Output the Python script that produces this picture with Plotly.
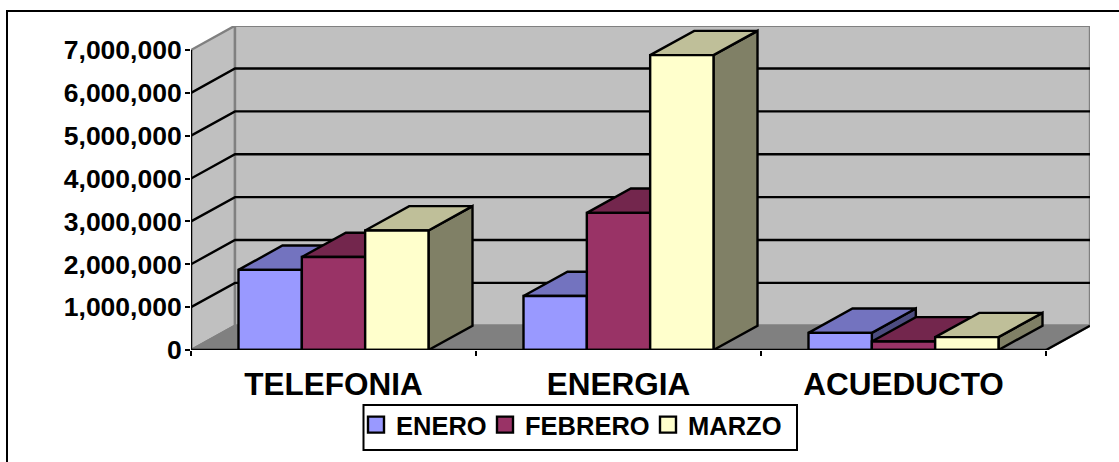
import plotly.graph_objects as go

CATEGORIES = ["TELEFONIA", "ENERGIA", "ACUEDUCTO"]
ENERO = [1870000, 1260000, 400000]
FEBRERO = [2170000, 3200000, 200000]
MARZO = [2790000, 6880000, 300000]
SERIES_NAMES = ["ENERO", "FEBRERO", "MARZO"]
Y_TICKS = [0, 1000000, 2000000, 3000000, 4000000, 5000000, 6000000, 7000000]

FRONT = ["#9999FF", "#993366", "#FFFFCC"]
TOP = ["#7373BF", "#73264D", "#BFBF99"]
SIDE = ["#4D4D80", "#4D1933", "#808066"]

# page geometry (pixels)
W, H = 1119, 462
L, R, T, B = 191, 1090, 26, 350
PX_PER_CAT = 285.0
PX_PER_UNIT = 300 / 7000000
DX = 44 / PX_PER_CAT        # depth of the 3D box in category units
DY = 24.3 / PX_PER_UNIT     # depth of the 3D box in value units
BAR_W = 1 / 4.5
GAP = (1 - 3 * BAR_W) / 2
N = len(CATEGORIES)
YTOP = Y_TICKS[-1]
LEGEND_X = [356, 485, 648]
LEGEND_Y = 401.5

fig = go.Figure()


def poly(xs, ys, fill=None, line="#000000", width=2.4):
    fig.add_trace(go.Scatter(
        x=xs, y=ys, mode="lines", showlegend=False, hoverinfo="skip",
        fill="toself" if fill else None, fillcolor=fill,
        line=dict(color=line, width=width), cliponaxis=False,
    ))


# walls and floor
poly([0, DX, DX, 0, 0], [0, DY, YTOP + DY, YTOP, 0], "#C0C0C0", "#808080")
poly([DX, N + DX, N + DX, DX, DX], [DY, DY, YTOP + DY, YTOP + DY, DY], "#C0C0C0", "#808080")
poly([0, DX, N + DX, N, 0], [0, DY, DY, 0, 0], "#808080", "#808080")

# gridlines
for v in Y_TICKS[1:-1]:
    poly([0, DX, N + DX], [v, v + DY, v + DY])
poly([N, N + DX], [0, DY])

# bars
for c in range(N):
    for s, values in enumerate([ENERO, FEBRERO, MARZO]):
        v = values[c]
        x0 = c + GAP + s * BAR_W
        x1 = x0 + BAR_W
        poly([x1, x1 + DX, x1 + DX, x1, x1], [0, DY, v + DY, v, 0], SIDE[s])
        poly([x0, x1, x1 + DX, x0 + DX, x0], [v, v, v + DY, v + DY, v], TOP[s])
        poly([x0, x1, x1, x0, x0], [0, 0, v, v, 0], FRONT[s])

# axis lines
poly([0, 0], [0, YTOP])
poly([0, N], [0, 0])

# legend entries
legend_ids = ["legend", "legend2", "legend3"]
for s, name in enumerate(SERIES_NAMES):
    fig.add_trace(go.Scatter(
        x=[None], y=[None], mode="markers", name=name, legend=legend_ids[s],
        marker=dict(symbol="square", size=16, color=FRONT[s],
                    line=dict(color="#000000", width=2.4)),
    ))


def px(x):
    return x / W


def py(y):
    return 1 - y / H


font = dict(family="Liberation Sans", weight=700, color="#000000")
legend_opts = {
    lid: dict(
        x=px(LEGEND_X[i]), y=py(LEGEND_Y), xanchor="left", yanchor="top",
        bgcolor="rgba(0,0,0,0)", borderwidth=0, font=dict(size=25.5, **font),
        itemwidth=30, itemclick=False, itemdoubleclick=False,
    )
    for i, lid in enumerate(legend_ids)
}
fig.update_layout(
    width=W, height=H, autosize=False,
    margin=dict(l=0, r=0, t=0, b=0, pad=0),
    paper_bgcolor="#FFFFFF", plot_bgcolor="rgba(0,0,0,0)",
    xaxis=dict(
        automargin=False, domain=[px(L), px(R)],
        range=[0, (R - L) / PX_PER_CAT], showgrid=False, zeroline=False, showline=False,
        tickmode="array", tickvals=[i + 0.5 for i in range(N)], ticktext=CATEGORIES,
        ticks="", ticklabelstandoff=12, tickfont=dict(size=31.5, **font),
        minor=dict(tickmode="array", tickvals=list(range(N + 1)), ticks="outside",
                   ticklen=5, tickwidth=2, tickcolor="#000000", showgrid=False),
    ),
    yaxis=dict(
        automargin=False, domain=[py(B), py(T)],
        range=[0, (B - T) / PX_PER_UNIT], showgrid=False, zeroline=False, showline=False,
        tickmode="array", tickvals=Y_TICKS, tickformat=",d",
        ticks="outside", ticklen=5, tickwidth=2, tickcolor="#000000",
        ticklabelstandoff=-2, tickfont=dict(size=26.5, **font),
    ),
    shapes=[
        dict(type="rect", xref="paper", yref="paper", x0=px(7), x1=px(W + 10), y0=py(11), y1=py(H + 10),
             line=dict(color="#000000", width=2), layer="below"),
        dict(type="rect", xref="paper", yref="paper", x0=px(363.5), x1=px(797), y0=py(405), y1=py(450),
             line=dict(color="#000000", width=2), fillcolor="#FFFFFF", layer="above"),
    ],
    **legend_opts,
)

fig.write_html("out.html", post_script="document.body.style.margin='0';document.body.style.overflow='hidden';",
               config={"displayModeBar": False})
